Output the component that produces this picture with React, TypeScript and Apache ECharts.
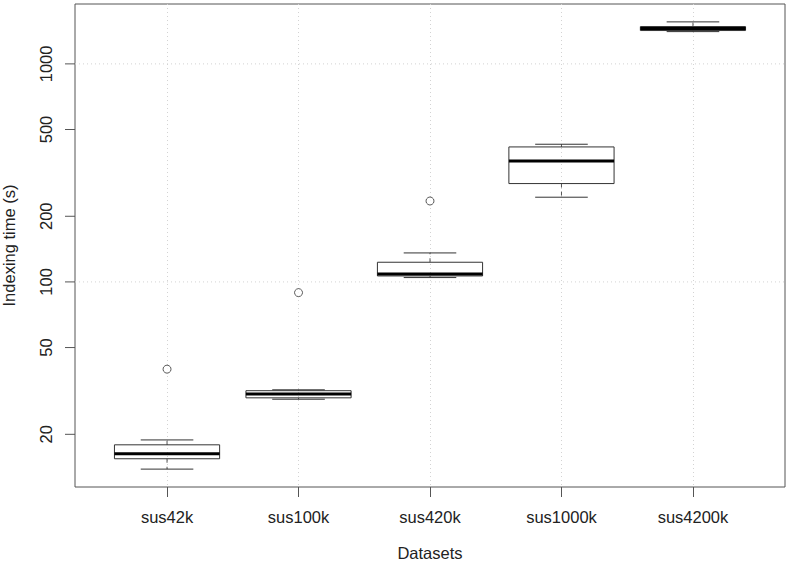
import React, { useEffect, useRef } from "react";
import * as echarts from "echarts";

const categories = ["sus42k", "sus100k", "sus420k", "sus1000k", "sus4200k"];
const whiskerLow = [13.85, 28.97, 104.7, 244.6, 1406];
const quartile1 = [15.45, 29.4, 106.5, 282.5, 1422];
const medians = [16.3, 30.6, 108.8, 359, 1452];
const quartile3 = [17.9, 31.7, 123.1, 416, 1483];
const whiskerHigh = [18.85, 32.0, 135.8, 428, 1558];
const outlierCategories = ["sus42k", "sus100k", "sus420k"];
const outlierValues = [39.8, 89.3, 235];
const yTickValues = [20, 50, 100, 200, 500, 1000];
const yGridValues = [100, 1000];

const FONT = '"Liberation Sans", Arial, Helvetica, sans-serif';
const FS = 16.5;

export default function App() {
  const ref = useRef<HTMLDivElement>(null);
  useEffect(() => {
    document.body.style.margin = "0";
    const chart = echarts.init(ref.current!, null, { renderer: "svg" });

    // R-style axis ranges (4% extension)
    const xMin = 0.5 - 0.2;
    const xMax = categories.length + 0.5 + 0.2;
    const lo = Math.log10(Math.min(...whiskerLow));
    const hi = Math.log10(Math.max(...whiskerHigh));
    const pad = (hi - lo) * 0.04;
    const yMin = Math.pow(10, lo - pad);
    const yMax = Math.pow(10, hi + pad);

    const idx = categories.map((_, i) => i + 1);
    const boxData = categories.map((_, i) => [
      i + 1,
      whiskerLow[i],
      quartile1[i],
      medians[i],
      quartile3[i],
      whiskerHigh[i],
    ]);
    const outlierData = outlierValues.map((v, i) => [
      categories.indexOf(outlierCategories[i]) + 1,
      v,
    ]);

    chart.setOption({
      animation: false,
      grid: {
        left: 75,
        top: 4,
        width: 710,
        height: 483,
        containLabel: false,
        outerBoundsMode: "none",
        show: true,
        borderColor: "#555",
        borderWidth: 1,
        backgroundColor: "transparent",
      },
      xAxis: {
        type: "value",
        min: xMin,
        max: xMax,
        axisLine: { show: false, onZero: false },
        axisTick: {
          show: true,
          customValues: idx,
          length: 10,
          inside: false,
          lineStyle: { color: "#555", width: 1 },
        },
        axisLabel: {
          customValues: idx,
          formatter: (v: number) => categories[Math.round(v) - 1] ?? "",
          margin: 21,
          fontSize: FS,
          color: "#222",
          fontFamily: FONT,
        },
        splitLine: {
          show: true,
          lineStyle: { color: "#d3d3d3", type: [1, 3], width: 1 },
        },
        name: "Datasets",
        nameLocation: "middle",
        nameGap: 57,
        nameTextStyle: { fontSize: FS, color: "#222", fontFamily: FONT },
      },
      yAxis: {
        type: "log",
        logBase: 10,
        min: yMin,
        max: yMax,
        axisLine: { show: false },
        axisTick: { show: false },
        axisLabel: { show: false },
        splitLine: { show: false },
        name: "Indexing time (s)",
        nameLocation: "middle",
        nameRotate: 90,
        nameGap: 58,
        nameTextStyle: { fontSize: FS, color: "#222", fontFamily: FONT },
      },
      series: [
        {
          type: "custom",
          name: "ygrid",
          z: 1,
          clip: false,
          silent: true,
          data: yGridValues.map((v) => [xMin, v]),
          renderItem: (params: any, api: any) => {
            const a = api.coord([xMin, api.value(1)]);
            const b = api.coord([xMax, api.value(1)]);
            return {
              type: "line",
              shape: { x1: a[0], y1: a[1], x2: b[0], y2: b[1] },
              style: { stroke: "#d3d3d3", lineWidth: 1, lineDash: [1, 3] },
            };
          },
        },
        {
          type: "custom",
          name: "yticks",
          z: 3,
          clip: false,
          silent: true,
          data: yTickValues.map((v) => [xMin, v]),
          renderItem: (params: any, api: any) => {
            const v = api.value(1);
            const p = api.coord([xMin, v]);
            return {
              type: "group",
              children: [
                {
                  type: "line",
                  shape: { x1: p[0] - 10, y1: p[1], x2: p[0], y2: p[1] },
                  style: { stroke: "#555", lineWidth: 1 },
                },
                {
                  type: "text",
                  x: p[0] - 29,
                  y: p[1],
                  rotation: Math.PI / 2,
                  style: {
                    text: String(v),
                    fontSize: FS,
                    fontFamily: FONT,
                    fill: "#222",
                    align: "center",
                    verticalAlign: "middle",
                  },
                },
              ],
            };
          },
        },
        {
          type: "custom",
          name: "boxes",
          z: 2,
          clip: false,
          encode: { x: 0, y: [1, 2, 3, 4, 5] },
          data: boxData,
          renderItem: (params: any, api: any) => {
            const x = api.value(0);
            const pLo = api.coord([x, api.value(1)]);
            const pQ1 = api.coord([x, api.value(2)]);
            const pMed = api.coord([x, api.value(3)]);
            const pQ3 = api.coord([x, api.value(4)]);
            const pHi = api.coord([x, api.value(5)]);
            const left = api.coord([x - 0.4, api.value(3)])[0];
            const right = api.coord([x + 0.4, api.value(3)])[0];
            const cx = pMed[0];
            const w = right - left;
            const stroke = "#333";
            return {
              type: "group",
              children: [
                {
                  type: "line",
                  shape: { x1: cx, y1: pQ3[1], x2: cx, y2: pHi[1] },
                  style: { stroke: "#555", lineWidth: 1, lineDash: [4, 4] },
                },
                {
                  type: "line",
                  shape: { x1: cx, y1: pQ1[1], x2: cx, y2: pLo[1] },
                  style: { stroke: "#555", lineWidth: 1, lineDash: [4, 4] },
                },
                {
                  type: "line",
                  shape: { x1: cx - w / 4, y1: pHi[1], x2: cx + w / 4, y2: pHi[1] },
                  style: { stroke, lineWidth: 1 },
                },
                {
                  type: "line",
                  shape: { x1: cx - w / 4, y1: pLo[1], x2: cx + w / 4, y2: pLo[1] },
                  style: { stroke, lineWidth: 1 },
                },
                {
                  type: "rect",
                  shape: { x: left, y: pQ3[1], width: w, height: pQ1[1] - pQ3[1] },
                  style: { fill: "none", stroke, lineWidth: 1 },
                },
                {
                  type: "line",
                  shape: { x1: left, y1: pMed[1], x2: right, y2: pMed[1] },
                  style: { stroke: "#000", lineWidth: 3 },
                },
              ],
            };
          },
        },
        {
          type: "scatter",
          name: "outliers",
          z: 3,
          data: outlierData,
          symbol: "circle",
          symbolSize: 8,
          itemStyle: { color: "#fff", borderColor: "#333", borderWidth: 1 },
        },
      ],
    });
    return () => chart.dispose();
  }, []);
  return <div ref={ref} style={{ width: 792, height: 564 }} />;
}
